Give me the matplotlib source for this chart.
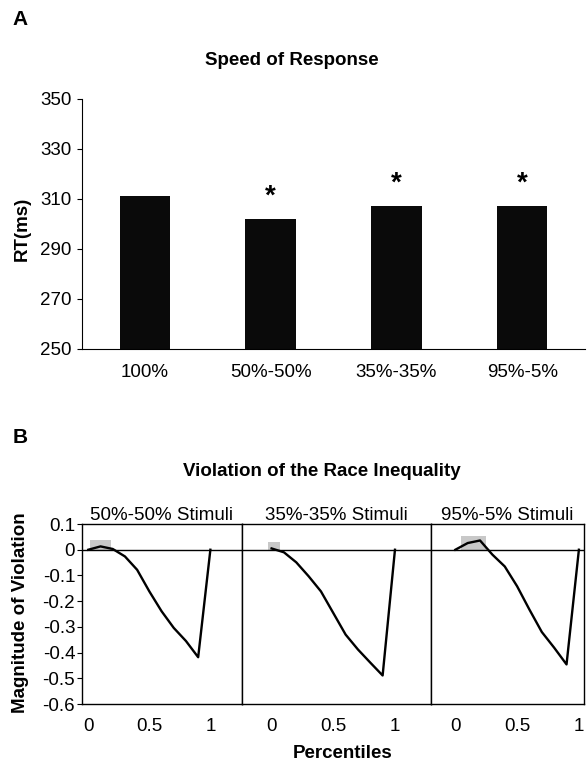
import numpy as np
import matplotlib
matplotlib.use('Agg')
import matplotlib.pyplot as plt
import matplotlib.gridspec as gridspec

plt.rcParams['font.family'] = ['Liberation Sans', 'DejaVu Sans']

# Panel A data
conditions = ['100%', '50%-50%', '35%-35%', '95%-5%']
rt_ms = [311, 302, 307, 307]
significant = [False, True, True, True]

# Panel B data
percentiles = [0, 0.1, 0.2, 0.3, 0.4, 0.5, 0.6, 0.7, 0.8, 0.9, 1.0]
viol_50_50 = [0, 0.013, 0.003, -0.026, -0.078, -0.162, -0.239, -0.304, -0.355, -0.418, 0]
viol_35_35 = [0.005, -0.010, -0.049, -0.103, -0.162, -0.246, -0.330, -0.388, -0.439, -0.489, 0]
viol_95_5 = [0, 0.026, 0.036, -0.019, -0.065, -0.142, -0.233, -0.320, -0.381, -0.446, 0]
panel_titles = ['50%-50% Stimuli', '35%-35% Stimuli', '95%-5% Stimuli']
# gray boxes marking the positive violation region (x0, x1, top)
shade_x0 = [0.013, -0.026, 0.049]
shade_x1 = [0.185, 0.065, 0.252]
shade_top = [0.036, 0.029, 0.052]
panel_xlims = [(-0.055, 1.261), (-0.238, 1.292), (-0.197, 1.04)]

FS = 13.5

fig = plt.figure(figsize=(5.87, 7.63), dpi=100)

# ---- A: speed of response
axA = fig.add_axes([0.1397, 0.5426, 0.857, 0.3277])
x = np.arange(len(conditions))
axA.bar(x, rt_ms, width=0.40, color='#0a0a0a')
axA.set_ylim(250, 350)
axA.set_xlim(-0.5, len(conditions) - 0.5)
axA.set_yticks(range(250, 351, 20))
axA.set_xticks(x)
axA.set_xticklabels(conditions)
axA.tick_params(axis='x', length=0, pad=11, labelsize=FS)
axA.tick_params(axis='y', length=3.6, labelsize=FS, pad=4)
for s in ['top', 'right']:
    axA.spines[s].set_visible(False)
for i, (v, sig) in enumerate(zip(rt_ms, significant)):
    if sig:
        axA.text(i, v + 9, '*', ha='center', va='center', fontsize=20, fontweight='bold')

fig.text(0.035, 0.974, 'A', ha='center', va='center', fontsize=15, fontweight='bold')
fig.text(0.497, 0.921, 'Speed of Response', ha='center', va='center', fontsize=FS, fontweight='bold')
fig.text(0.0375, 0.70, 'RT(ms)', ha='center', va='center', rotation=90, fontsize=FS, fontweight='bold')

# ---- B: race inequality violation
gs = gridspec.GridSpec(1, 3, figure=fig, left=0.139, right=0.9946, top=0.3132, bottom=0.0773,
                       wspace=0, width_ratios=[160.6, 188.7, 152.8])
series = [viol_50_50, viol_35_35, viol_95_5]
for k in range(3):
    ax = fig.add_subplot(gs[0, k])
    ax.add_patch(plt.Rectangle((shade_x0[k], 0), shade_x1[k] - shade_x0[k], shade_top[k],
                               color='#c8c8c8', lw=0, zorder=1))
    ax.axhline(0, color='black', lw=1, zorder=2)
    ax.plot(percentiles, series[k], color='black', lw=1.7, zorder=3)
    ax.set_xlim(*panel_xlims[k])
    ax.set_ylim(-0.6, 0.1)
    ax.set_xticks([0, 0.5, 1])
    ax.set_xticklabels(['0', '0.5', '1'])
    ax.tick_params(axis='x', length=0, pad=10, labelsize=FS)
    ax.set_title(panel_titles[k], fontsize=FS, pad=3)
    if k == 0:
        ax.set_yticks(np.arange(-0.6, 0.11, 0.1))
        ax.set_yticklabels(['-0.6', '-0.5', '-0.4', '-0.3', '-0.2', '-0.1', '0', '0.1'])
        ax.tick_params(axis='y', length=3.6, labelsize=FS, pad=1)
    else:
        ax.set_yticks([])
    for s in ax.spines.values():
        s.set_linewidth(1)

fig.text(0.035, 0.426, 'B', ha='center', va='center', fontsize=15, fontweight='bold')
fig.text(0.548, 0.3818, 'Violation of the Race Inequality', ha='center', va='center',
         fontsize=FS, fontweight='bold')
fig.text(0.035, 0.1966, 'Magnitude of Violation', ha='center', va='center', rotation=90,
         fontsize=FS, fontweight='bold')
fig.text(0.583, 0.0131, 'Percentiles', ha='center', va='center', fontsize=FS, fontweight='bold')

fig.savefig('out.png', dpi=100, facecolor='white')
